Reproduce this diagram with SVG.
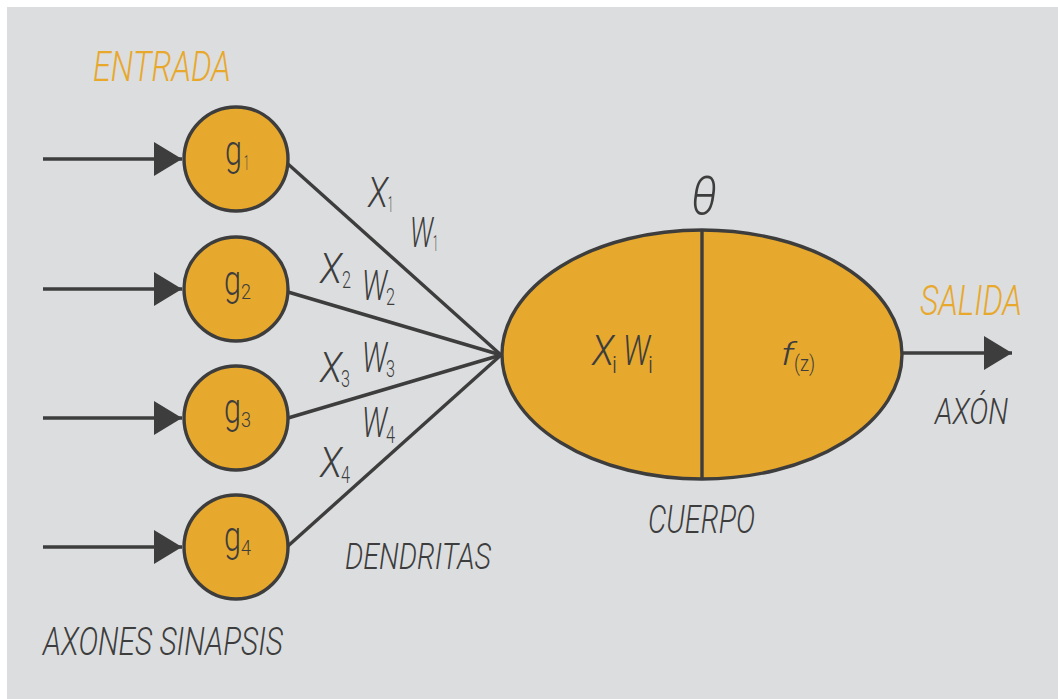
<svg xmlns="http://www.w3.org/2000/svg" width="1058" height="699" viewBox="0 0 1058 699">
<style>
.bg{fill:#dcdddf}
.node{fill:#e6a82d;stroke:#3d3d3d;stroke-width:3.4}
.edge{stroke:#3d3d3d;stroke-width:3.4;fill:none}
.t{font-family:Roboto,"Liberation Sans",sans-serif;font-weight:300;fill:#3d3d3d}
.it{font-style:italic}
.up{font-style:normal}
.or{fill:#e8a82c}
</style>
<defs>
<marker id="arr" markerWidth="30" markerHeight="34" refX="28" refY="17" orient="auto" markerUnits="userSpaceOnUse">
<path d="M0,0 L28,17 L0,34 Z" fill="#3d3d3d"/>
</marker>
</defs>
<rect class="bg" x="7" y="7" width="1051" height="692"/>

<g id="connectors">
<line class="edge" x1="43" y1="159" x2="182" y2="159" marker-end="url(#arr)"/>
<line class="edge" x1="43" y1="289" x2="182" y2="289" marker-end="url(#arr)"/>
<line class="edge" x1="43" y1="418" x2="182" y2="418" marker-end="url(#arr)"/>
<line class="edge" x1="43" y1="547" x2="182" y2="547" marker-end="url(#arr)"/>
<line class="edge" x1="288" y1="164" x2="501" y2="355"/>
<line class="edge" x1="288" y1="292" x2="501" y2="355"/>
<line class="edge" x1="288" y1="418" x2="501" y2="355"/>
<line class="edge" x1="288" y1="546" x2="501" y2="355"/>
<line class="edge" x1="902" y1="353" x2="1012" y2="353" marker-end="url(#arr)"/>
</g>

<g id="g1">
<circle class="node" cx="236" cy="159" r="52"/>
<text class="t" font-size="42"><tspan x="225" y="165" textLength="17" lengthAdjust="spacingAndGlyphs">g</tspan><tspan x="244" y="170" font-size="21" textLength="5" lengthAdjust="spacingAndGlyphs">1</tspan></text>
</g>
<g id="g2">
<circle class="node" cx="236" cy="289" r="52"/>
<text class="t" font-size="42"><tspan x="224" y="295" textLength="17" lengthAdjust="spacingAndGlyphs">g</tspan><tspan x="241" y="299" font-size="21" textLength="10" lengthAdjust="spacingAndGlyphs">2</tspan></text>
</g>
<g id="g3">
<circle class="node" cx="236" cy="418" r="52"/>
<text class="t" font-size="42"><tspan x="224" y="423" textLength="17" lengthAdjust="spacingAndGlyphs">g</tspan><tspan x="241" y="427" font-size="21" textLength="10" lengthAdjust="spacingAndGlyphs">3</tspan></text>
</g>
<g id="g4">
<circle class="node" cx="236" cy="547" r="52"/>
<text class="t" font-size="42"><tspan x="224" y="551" textLength="17" lengthAdjust="spacingAndGlyphs">g</tspan><tspan x="241" y="555" font-size="21" textLength="10" lengthAdjust="spacingAndGlyphs">4</tspan></text>
</g>

<g id="cuerpo">
<ellipse class="node" cx="702" cy="354.5" rx="200" ry="124.5"/>
<line class="edge" x1="702" y1="230" x2="702" y2="479"/>
<text class="t it" font-size="42"><tspan x="592" y="365" textLength="22" lengthAdjust="spacingAndGlyphs">X</tspan><tspan class="up" x="612" y="373" font-size="24" textLength="5" lengthAdjust="spacingAndGlyphs">i</tspan><tspan x="623" y="365" textLength="27" lengthAdjust="spacingAndGlyphs">W</tspan><tspan class="up" x="648" y="373" font-size="24" textLength="5" lengthAdjust="spacingAndGlyphs">i</tspan></text>
<text class="t it" font-size="32"><tspan x="781" y="365" textLength="13" lengthAdjust="spacingAndGlyphs">f</tspan><tspan class="up" x="794" y="371" font-size="22" textLength="21" lengthAdjust="spacingAndGlyphs">(z)</tspan></text>
</g>

<g id="labels">
<text class="t it or" x="93" y="81" font-size="43" textLength="138" lengthAdjust="spacingAndGlyphs">ENTRADA</text>
<text class="t it or" x="920" y="315" font-size="42" textLength="102" lengthAdjust="spacingAndGlyphs">SALIDA</text>
<text class="t it" x="935" y="424" font-size="37" textLength="73" lengthAdjust="spacingAndGlyphs">AXÓN</text>
<text class="t it" x="648" y="533" font-size="39" textLength="107" lengthAdjust="spacingAndGlyphs">CUERPO</text>
<text class="t it" x="345" y="569" font-size="37" textLength="146" lengthAdjust="spacingAndGlyphs">DENDRITAS</text>
<text class="t it" x="43" y="655" font-size="38" textLength="240" lengthAdjust="spacingAndGlyphs">AXONES SINAPSIS</text>
<text class="t it" x="691" y="214" font-size="54" textLength="26" lengthAdjust="spacingAndGlyphs">θ</text>

<text class="t it" font-size="42"><tspan x="368" y="207" textLength="20" lengthAdjust="spacingAndGlyphs">X</tspan><tspan class="up" x="388" y="212" font-size="22" textLength="5" lengthAdjust="spacingAndGlyphs">1</tspan></text>
<text class="t it" font-size="42"><tspan x="410" y="247" textLength="23" lengthAdjust="spacingAndGlyphs">W</tspan><tspan class="up" x="433" y="251" font-size="22" textLength="5" lengthAdjust="spacingAndGlyphs">1</tspan></text>

<text class="t it" font-size="42"><tspan x="320" y="283" textLength="22" lengthAdjust="spacingAndGlyphs">X</tspan><tspan class="up" x="342" y="288" font-size="23" textLength="9" lengthAdjust="spacingAndGlyphs">2</tspan></text>
<text class="t it" font-size="42"><tspan x="362" y="300" textLength="25" lengthAdjust="spacingAndGlyphs">W</tspan><tspan class="up" x="386" y="305" font-size="23" textLength="9" lengthAdjust="spacingAndGlyphs">2</tspan></text>

<text class="t it" font-size="42"><tspan x="320" y="382" textLength="22" lengthAdjust="spacingAndGlyphs">X</tspan><tspan class="up" x="341" y="387" font-size="23" textLength="9" lengthAdjust="spacingAndGlyphs">3</tspan></text>
<text class="t it" font-size="42"><tspan x="362" y="372" textLength="25" lengthAdjust="spacingAndGlyphs">W</tspan><tspan class="up" x="386" y="377" font-size="23" textLength="9" lengthAdjust="spacingAndGlyphs">3</tspan></text>

<text class="t it" font-size="42"><tspan x="362" y="437" textLength="25" lengthAdjust="spacingAndGlyphs">W</tspan><tspan class="up" x="386" y="443" font-size="23" textLength="9" lengthAdjust="spacingAndGlyphs">4</tspan></text>
<text class="t it" font-size="42"><tspan x="320" y="477" textLength="22" lengthAdjust="spacingAndGlyphs">X</tspan><tspan class="up" x="341" y="483" font-size="23" textLength="9" lengthAdjust="spacingAndGlyphs">4</tspan></text>
</g>
</svg>
